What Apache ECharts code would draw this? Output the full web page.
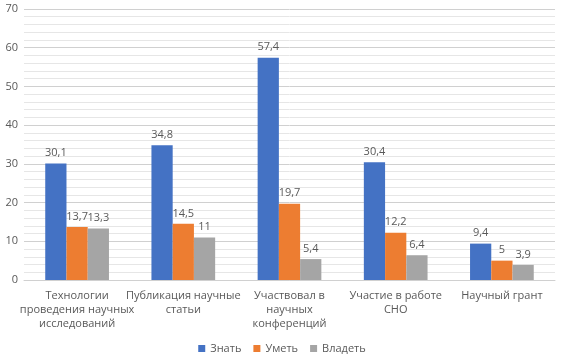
<!DOCTYPE html>
<html>
<head>
<meta charset="utf-8">
<script src="https://cdn.jsdelivr.net/npm/echarts@6/dist/echarts.min.js"></script>
<style>
  html, body { margin: 0; padding: 0; background: #fff; }
  #chart { width: 564px; height: 360px; }
</style>
</head>
<body>
<div id="chart"></div>
<script>
const categories = [
  'Технологии\nпроведения научных\nисследований',
  'Публикация научные\nстатьи',
  'Участвовал в\nнаучных\nконференций',
  'Участие в работе\nСНО',
  'Научный грант'
];
const know = [30.1, 34.8, 57.4, 30.4, 9.4];
const can = [13.7, 14.5, 19.7, 12.2, 5];
const own = [13.3, 11, 5.4, 6.4, 3.9];
const seriesNames = ['Знать', 'Уметь', 'Владеть'];
const COLORS = ['#4472c4', '#ed7d31', '#a5a5a5'];
const TEXT = '#595959';
const FONT = '"Open Sans", "Noto Sans", sans-serif';

const chart = echarts.init(document.getElementById('chart'));
const fmt = p => String(p.value).replace('.', ',');

chart.setOption({
  animation: false,
  textStyle: { fontFamily: FONT },
  legend: {
    data: seriesNames, bottom: 1, left: 'center',
    itemWidth: 7, itemHeight: 7, itemGap: 12, icon: 'rect',
    textStyle: { color: TEXT, fontSize: 11, fontFamily: FONT }
  },
  grid: { left: 24, right: 9, top: 9, bottom: 80 },
  xAxis: {
    type: 'category', data: categories,
    axisLine: { lineStyle: { color: '#d0d0d0' } },
    axisTick: { show: false },
    axisLabel: { color: TEXT, fontSize: 11, lineHeight: 14, margin: 9, interval: 0, fontFamily: FONT }
  },
  yAxis: {
    type: 'value', min: 0, max: 70, interval: 10,
    axisLine: { show: false }, axisTick: { show: false },
    axisLabel: { color: TEXT, fontSize: 11, margin: 6, fontFamily: FONT },
    splitLine: { lineStyle: { color: '#d0d0d0' } },
    minorTick: { show: false, splitNumber: 5 },
    minorSplitLine: { show: true, lineStyle: { color: '#e6e6e6' } }
  },
  series: [know, can, own].map((d, i) => ({
    name: seriesNames[i], type: 'bar', data: d,
    barGap: '0%', barCategoryGap: '40%',
    itemStyle: { color: COLORS[i] },
    label: { show: true, position: 'top', distance: 5, color: TEXT, fontSize: 11, formatter: fmt, fontFamily: FONT }
  }))
});
</script>
</body>
</html>
